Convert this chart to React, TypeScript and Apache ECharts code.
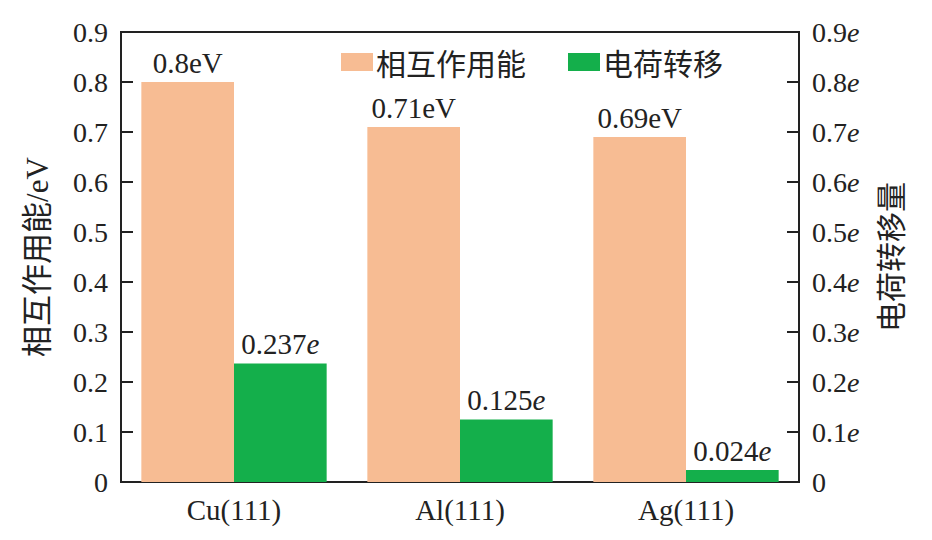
import React, { useEffect, useRef } from "react";
import * as echarts from "echarts";

const categories = ["Cu(111)", "Al(111)", "Ag(111)"];
const energyValues = [0.8, 0.71, 0.69];
const chargeValues = [0.237, 0.125, 0.024];
const energyLabels = ["0.8eV", "0.71eV", "0.69eV"];
const chargeLabels = ["0.237", "0.125", "0.024"];
const seriesNames = ["相互作用能", "电荷转移"];
const leftAxisName = "相互作用能/eV";
const rightAxisName = "电荷转移量";
const axisMax = 0.9;
const axisInterval = 0.1;

const SERIF = "'Liberation Serif', 'Noto Sans CJK SC', serif";
const CJK = "'Noto Sans CJK SC', 'Liberation Serif', serif";
const TEXT = "#222";
const LINE = "#222";
const ORANGE = "#F7BC93";
const GREEN = "#14AF4B";

export default function App() {
  const ref = useRef<HTMLDivElement>(null);
  useEffect(() => {
    if (!ref.current) return;
    const chart = echarts.init(ref.current, undefined, { renderer: "svg" });
    const axisCommon = {
      type: "value" as const,
      min: 0,
      max: axisMax,
      interval: axisInterval,
      nameLocation: "middle" as const,
      axisLine: { show: true, lineStyle: { color: LINE, width: 2 } },
      axisTick: { show: true, inside: true, length: 12, lineStyle: { color: LINE, width: 2 } },
      splitLine: { show: false },
    };
    chart.setOption({
      animation: false,
      backgroundColor: "#fff",
      grid: {
        left: 121,
        right: 133,
        top: 32,
        bottom: 58,
        show: true,
        borderColor: LINE,
        borderWidth: 2,
        backgroundColor: "transparent",
      },
      legend: {
        left: 336,
        top: 42,
        itemWidth: 32,
        itemHeight: 18,
        itemGap: 42,
        icon: "rect",
        textStyle: { fontFamily: CJK, fontSize: 30, color: TEXT, padding: [0, 0, 0, -2] },
        data: seriesNames,
      },
      xAxis: {
        type: "category",
        data: categories,
        axisLine: { show: true, lineStyle: { color: LINE, width: 2 } },
        axisTick: { show: true, inside: true, alignWithLabel: true, length: 11, lineStyle: { color: LINE, width: 2 } },
        axisLabel: { fontFamily: SERIF, fontSize: 29, color: TEXT, margin: 13 },
      },
      yAxis: [
        {
          ...axisCommon,
          position: "left",
          name: leftAxisName,
          nameGap: 68,
          nameTextStyle: { fontFamily: SERIF, fontSize: 31, color: TEXT },
          axisLabel: {
            fontFamily: SERIF,
            fontSize: 28,
            color: TEXT,
            margin: 13,
            formatter: (v: number) => (v === 0 ? "0" : v.toFixed(1)),
          },
        },
        {
          ...axisCommon,
          position: "right",
          name: rightAxisName,
          nameGap: 75,
          nameTextStyle: { fontFamily: CJK, fontSize: 30, color: TEXT },
          axisLabel: {
            fontFamily: SERIF,
            fontSize: 28,
            color: TEXT,
            margin: 13,
            formatter: (v: number) => (v === 0 ? "0" : `{n|${v.toFixed(1)}}{i|e}`),
            rich: {
              n: { fontFamily: SERIF, fontSize: 28, color: TEXT },
              i: { fontFamily: SERIF, fontSize: 28, color: TEXT, fontStyle: "italic" },
            },
          },
        },
      ],
      series: [
        {
          name: seriesNames[0],
          type: "bar",
          yAxisIndex: 0,
          data: energyValues,
          barGap: "0%",
          barCategoryGap: "18%",
          itemStyle: { color: ORANGE },
          label: {
            show: true,
            position: "top",
            distance: 5,
            fontFamily: SERIF,
            fontSize: 29,
            color: TEXT,
            formatter: (p: any) => energyLabels[p.dataIndex],
          },
        },
        {
          name: seriesNames[1],
          type: "bar",
          yAxisIndex: 1,
          data: chargeValues,
          barGap: "0%",
          barCategoryGap: "18%",
          itemStyle: { color: GREEN },
          label: {
            show: true,
            position: "top",
            distance: 5,
            fontFamily: SERIF,
            fontSize: 29,
            color: TEXT,
            formatter: (p: any) => `{n|${chargeLabels[p.dataIndex]}}{i|e}`,
            rich: {
              n: { fontFamily: SERIF, fontSize: 29, color: TEXT },
              i: { fontFamily: SERIF, fontSize: 29, color: TEXT, fontStyle: "italic" },
            },
          },
        },
      ],
    });
    return () => chart.dispose();
  }, []);
  return (
    <div
      ref={ref}
      style={{ position: "fixed", left: 0, top: 0, width: 932, height: 540, background: "#fff" }}
    />
  );
}
